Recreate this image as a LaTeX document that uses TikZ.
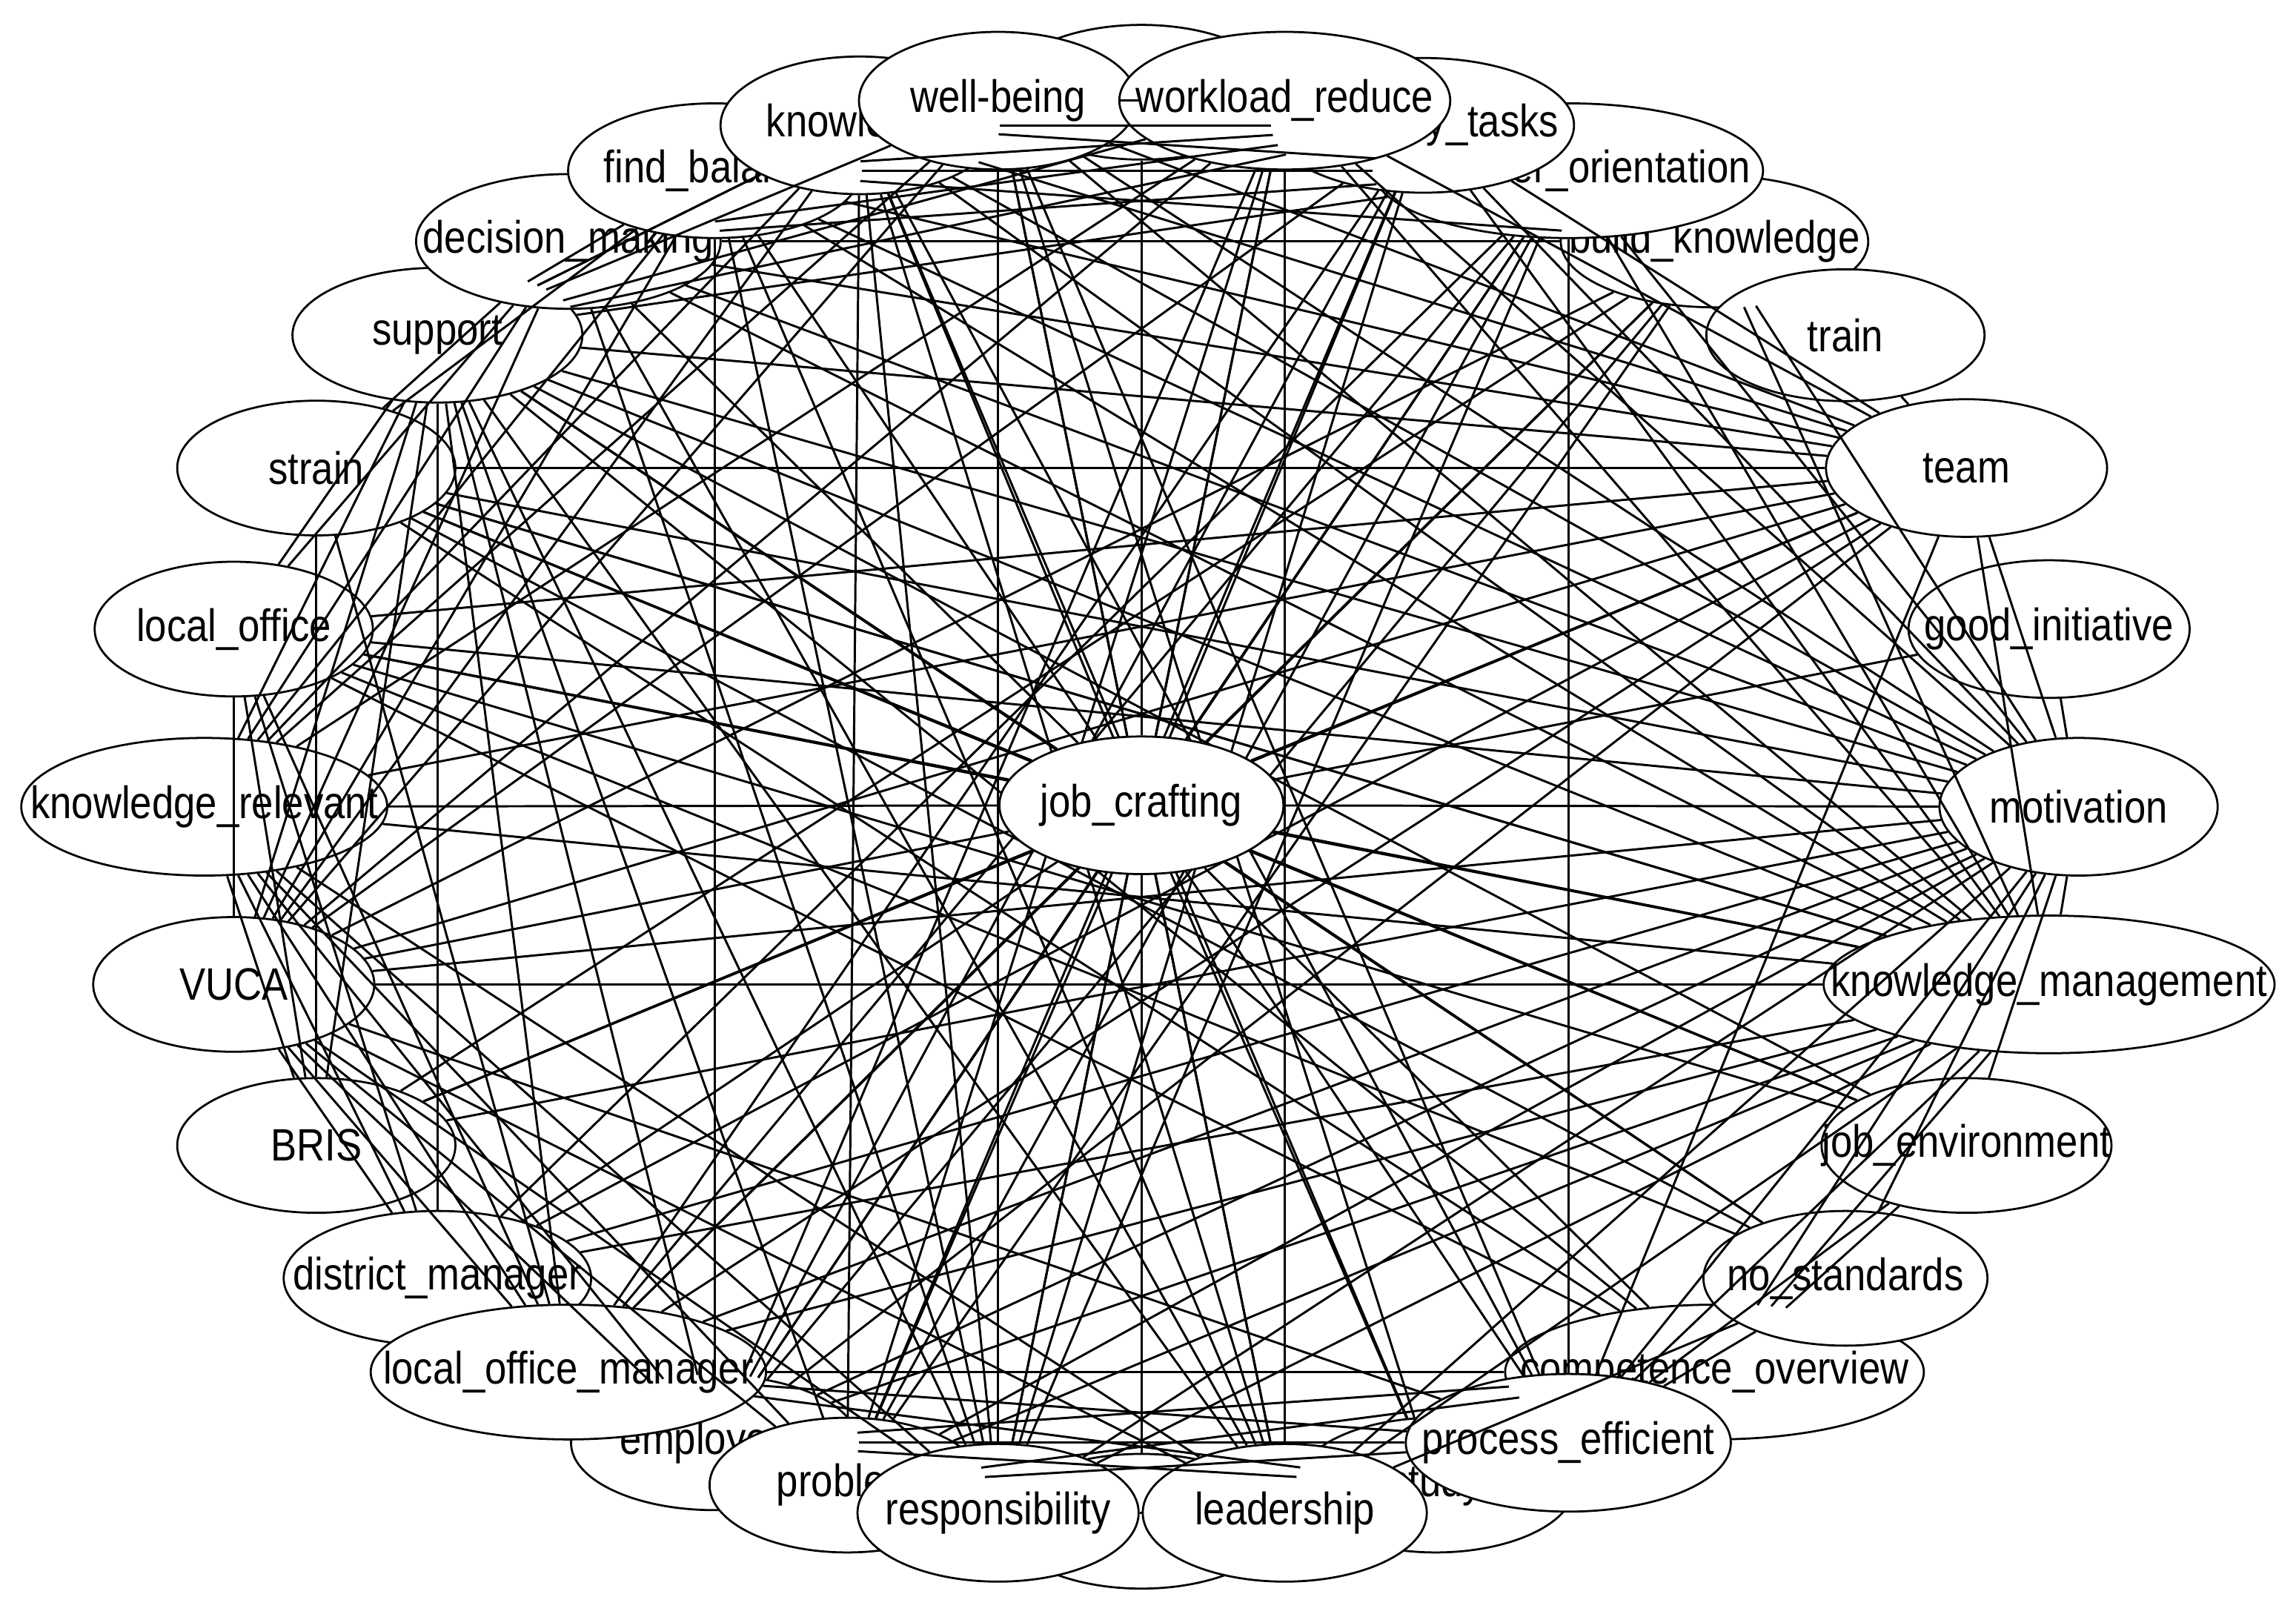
\documentclass[tikz,border=0pt]{standalone}
\usepackage{fontspec}
\setmainfont{Liberation Sans}[FakeStretch=0.86]
\usetikzlibrary{shapes.geometric}
\begin{document}
\begin{tikzpicture}[x=0.5pt,y=-0.5pt,
  ell/.style={ellipse, draw, fill=white, inner sep=0pt, line width=0.7pt},
  lab/.style={font=\fontsize{15.5}{18}\selectfont, inner sep=0pt},
  edge/.style={line width=0.75pt}]
\useasboundingbox (0,0) rectangle (1568,1102);
\newcommand\N[5]{%
  \node[ell, minimum width=#3pt, minimum height=#4pt] (#1) at ({779.5+640*cos(#2)},{551-488*sin(#2)}) {};
  \node[lab] (#1-t) at (#1.center) {#5};}
% nodes, in drawing order
\N{mot}{0}{95}{47}{motivation}
\N{gi}{14.4}{96}{47}{good\_initiative}
\N{km}{345.6}{154}{47}{knowledge\_management}
\N{je}{331.7}{99}{46}{job\_environment}
\N{str}{151.7}{95}{46}{strain}
\N{lo}{165.6}{95}{46}{local\_office}
\N{kr}{180}{125}{47}{knowledge\_relevant}
\N{vuca}{194.4}{96}{46}{VUCA}
\N{bris}{208.3}{95}{46}{BRIS}
\N{sup}{138.7}{99}{46}{support}
\N{dm}{127.7}{104}{46}{decision\_making}
\N{fb}{117.1}{100}{46}{find\_balance}
\N{top}{90}{95}{46}{}
\N{kn}{107.5}{95}{47}{knowledge}
\N{wb}{98.8}{95}{47}{well-being}
\N{bk}{52.3}{105}{45}{build\_knowledge}
\N{train}{41.3}{95}{45}{train}
\N{team}{28.3}{96}{47}{team}
\N{co}{62.9}{133}{46}{customer\_orientation}
\N{et}{72.5}{103}{46}{everyday\_tasks}
\N{wr}{81.2}{113}{47}{workload\_reduce}
\N{dman}{221.3}{105}{46}{district\_manager}
\N{emp}{242.9}{98}{46}{employees}
\N{lom}{232.3}{135}{46}{local\_office\_manager}
\N{prob}{251.7}{94}{46}{problem}
\N{bot}{270}{95}{46}{}
\N{ud}{288.3}{95}{46}{study}
\N{resp}{261.2}{96}{47}{responsibility}
\N{lead}{278.8}{97}{47}{leadership}
\N{comp}{307.7}{143}{46}{competence\_overview}
\N{ns}{318.7}{97}{46}{no\_standards}
\N{pe}{297.1}{111}{47}{process\_efficient}
\coordinate (jcc) at (779.5,550);
\path (jcc) node[ell, minimum width=97pt, minimum height=47pt, draw=none, fill=none] (jc) {};
% edges
\foreach \b in {mot,gi,team,bk,co,et,wr,top,wb,kn,fb,dm,sup,str,lo,kr,vuca,bris,dman,lom,emp,prob,resp,bot,lead,ud,pe,comp,ns,je,km}
  \draw[edge] (jc) -- (\b);
\foreach \a/\b in {sup/dman,fb/emp,wb/resp,wr/lead,co/pe,lo/vuca,str/bris,kn/prob,
  str/team,vuca/km,wb/wr,resp/lead,train/team,gi/mot,mot/km,team/mot,team/km,mot/je,
  mot/str,mot/sup,mot/lo,mot/vuca,mot/bris,mot/dman,mot/lom,mot/dm,mot/fb,mot/kn,mot/wb,mot/wr,mot/et,mot/co,mot/bk,mot/resp,mot/lead,mot/pe,mot/comp,mot/ns,mot/emp,mot/prob,
  sup/lo,sup/kr,sup/vuca,sup/bris,sup/team,sup/km,sup/je,sup/ns,sup/comp,sup/lead,sup/resp,sup/prob,sup/emp,sup/lom,sup/wb,sup/kn,sup/wr,sup/et,sup/co,
  km/str,km/lo,km/kr,km/dm,km/fb,km/kn,km/wb,km/wr,km/et,km/co,km/bk,km/lead,km/resp,km/prob,km/emp,km/lom,km/dman,
  team/kn,team/wb,team/wr,team/et,team/fb,team/dm,team/lo,team/kr,team/vuca,team/bris,team/lom,team/emp,team/pe,
  vuca/dm,vuca/fb,vuca/kn,vuca/wb,vuca/wr,vuca/et,vuca/dman,vuca/lom,vuca/emp,vuca/prob,vuca/resp,vuca/lead,vuca/pe,
  kr/dm,kr/fb,kr/kn,kr/wb,kr/wr,kr/lom,kr/emp,kr/prob,kr/resp,kr/lead,
  dm/co,fb/co,dm/et,fb/bk,kn/co,dm/bk,fb/et,kn/et,
  lom/pe,emp/pe,lom/comp,emp/comp,prob/pe,lom/ud,emp/ud,prob/comp,
  wb/lead,wr/resp,kn/lead,wb/pe,wr/prob,
  kn/resp,wb/ud,et/resp,et/prob,et/emp,kn/ud,kn/pe,fb/lead,fb/resp,dm/lead,dm/resp,co/resp,co/prob,co/emp,bk/emp,bk/prob,et/lom,wr/emp,
  str/je,str/ns,str/comp,lo/je,lo/ns,lo/comp,str/km,
  team/dman,bk/vuca,bk/bris,co/dman,co/lom,bk/lom,
  str/lom,lo/dman,lo/bris,lo/lom,kr/bris,kr/dman,
  dm/str,fb/sup,kn/sup,dm/lo,fb/str,
  ns/pe,je/pe,je/comp,km/comp,km/pe,ns/lead}
  \draw[edge] (\a) -- (\b);
% central node drawn on top
\node[ell, minimum width=97pt, minimum height=47pt] (jcd) at (jcc) {};
\node[lab] (jc-t) at (jcd.center) {job\_crafting};
\end{tikzpicture}
\end{document}
